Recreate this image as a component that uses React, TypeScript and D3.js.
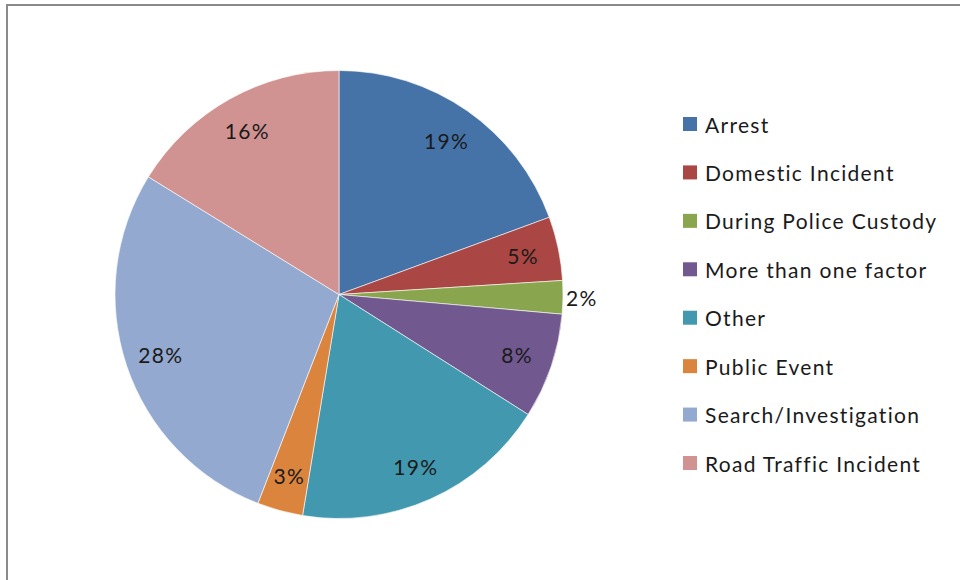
import React from "react";
import * as d3 from "d3";

const categories = [
  "Arrest",
  "Domestic Incident",
  "During Police Custody",
  "More than one factor",
  "Other",
  "Public Event",
  "Search/Investigation",
  "Road Traffic Incident",
];
const values = [19.4, 4.6, 2.4, 7.6, 18.6, 3.3, 27.9, 16.2];
const colors = ["#4572A7", "#AA4643", "#89A54E", "#71588F", "#4198AF", "#DB843D", "#93A9CF", "#D19392"];

const W = 960;
const H = 580;
const cx = 339;
const cy = 294.5;
const R = 224;
const FONT = "Lato, 'Open Sans', sans-serif";

export default function App() {
  const total = d3.sum(values);
  const pie = d3.pie<number>().sort(null).value((d) => d);
  const arcs = pie(values);
  const arc = d3.arc<d3.PieArcDatum<number>>().innerRadius(0).outerRadius(R);
  const labelArc = d3.arc<d3.PieArcDatum<number>>().innerRadius(188).outerRadius(188);
  const legendY = d3.scalePoint<string>().domain(categories).range([124, 463]);

  return (
    <svg width={W} height={H} style={{ position: "absolute", left: 0, top: 0 }}>
      <rect x={0} y={0} width={W} height={H} fill="#ffffff" />
      <rect x={7} y={5} width={W + 10} height={H + 10} fill="none" stroke="#8a8a8a" strokeWidth={2} />
      <g transform={`translate(${cx},${cy})`}>
        {arcs.map((a, i) => (
          <path key={i} d={arc(a) || ""} fill={colors[i]} stroke="#ffffff" strokeWidth={0.6} />
        ))}
        {arcs.map((a, i) => {
          const pct = Math.round((a.value / total) * 100);
          const outside = pct < 3;
          let x: number, y: number;
          if (outside) {
            const mid = (a.startAngle + a.endAngle) / 2;
            x = Math.sin(mid) * (R + 3);
            y = -Math.cos(mid) * (R + 3);
          } else {
            [x, y] = labelArc.centroid(a);
          }
          return (
            <text
              key={i}
              x={x}
              y={y}
              textAnchor={outside ? "start" : "middle"}
              dominantBaseline="central"
              fontFamily={FONT}
              fontSize={21}
              letterSpacing={1.3}
              fill="#1a1a1a"
            >
              {pct}%
            </text>
          );
        })}
      </g>
      <g>
        {categories.map((c, i) => (
          <g key={c} transform={`translate(683,${legendY(c)})`}>
            <rect x={0} y={-7} width={14} height={14} fill={colors[i]} />
            <text
              x={22}
              y={0}
              dominantBaseline="central"
              fontFamily={FONT}
              fontSize={21}
              letterSpacing={1.3}
              fill="#1a1a1a"
            >
              {c}
            </text>
          </g>
        ))}
      </g>
    </svg>
  );
}
